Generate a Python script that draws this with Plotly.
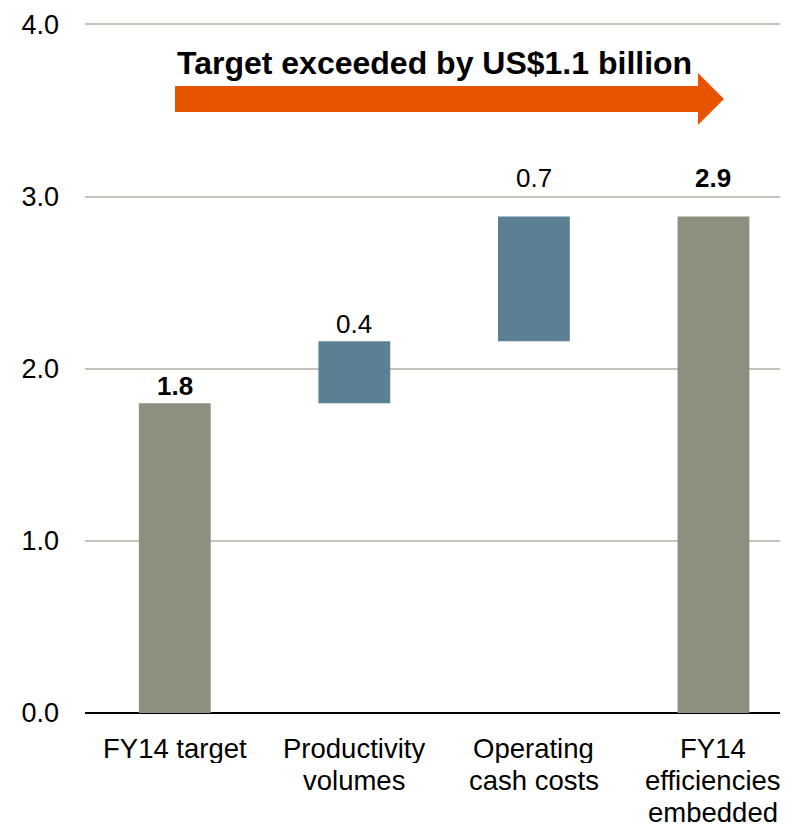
import plotly.graph_objects as go

categories = ["FY14 target", "Productivity<br>volumes", "Operating<br>cash costs", "FY14<br>efficiencies<br>embedded"]
measures = ["absolute", "relative", "relative", "total"]
values = [1.8, 0.36, 0.725, 0]
value_labels = ["<b>1.8</b>", "0.4", "0.7", "<b>2.9</b>"]
y_ticks = [0, 1, 2, 3, 4]
y_tick_labels = ["0.0", "1.0", "2.0", "3.0", "4.0"]
headline = "Target exceeded by US$1.1 billion"

GREY = "#8E8F7F"
BLUE = "#5B7F93"
ORANGE = "#E85300"
FONT = "Liberation Sans, Arial, sans-serif"

OFF = 8  # page body margin
W, H = 780, 817
ML, MR, MT, MB = 77, 0, 13, 112
PW, PH = W - ML - MR, H - MT - MB
PLOT_LEFT = OFF + ML
PLOT_BOTTOM = OFF + MT + PH


def px(xp):
    return (xp - PLOT_LEFT) / PW


def py(yp):
    return (PLOT_BOTTOM - yp) / PH


fig = go.Figure(go.Waterfall(
    x=categories,
    y=values,
    measure=measures,
    width=0.4,
    increasing=dict(marker=dict(color=BLUE, line=dict(width=0))),
    decreasing=dict(marker=dict(color=BLUE, line=dict(width=0))),
    totals=dict(marker=dict(color=GREY, line=dict(width=0))),
    connector=dict(visible=False),
    hoverinfo="skip",
))

# value labels above bar tops (running totals)
label_lift = [0, 0, 21, 21]
running = 0.0
for cat, m, v, lab, lift in zip(categories, measures, values, value_labels, label_lift):
    if m == "absolute":
        running = v
    elif m == "relative":
        running += v
    top = running
    fig.add_annotation(x=cat, y=top, xref="x", yref="y", text=lab, showarrow=False,
                       xanchor="center", yanchor="bottom", yshift=lift,
                       font=dict(family=FONT, size=26, color="black"))

# category labels, one annotation per line for tight line spacing
LINE_GAP = 32
FIRST = 35
for cat in categories:
    for i, line in enumerate(cat.split("<br>")):
        fig.add_annotation(x=cat, y=0, xref="x", yref="paper", text=line, showarrow=False,
                           xanchor="center", yanchor="middle", yshift=-(FIRST + LINE_GAP * i),
                           height=30,
                           font=dict(family=FONT, size=27.5, color="black"))

# orange arrow
pts = [(175, 86), (698, 86), (698, 73), (724, 99), (698, 125), (698, 112), (175, 112)]
path = "M " + " L ".join(f"{px(a):.5f},{py(b):.5f}" for a, b in pts) + " Z"
fig.add_shape(type="path", xref="paper", yref="paper", path=path,
              fillcolor=ORANGE, line=dict(width=0), layer="above")

fig.add_annotation(xref="paper", yref="paper", x=px(434), y=py(63),
                   text=f"<b>{headline}</b>", showarrow=False,
                   xanchor="center", yanchor="middle",
                   font=dict(family=FONT, size=32, color="black"))

fig.update_layout(
    width=W, height=H,
    margin=dict(l=ML, r=MR, t=MT, b=MB, pad=0),
    paper_bgcolor="white", plot_bgcolor="white",
    showlegend=False,
    font=dict(family=FONT, color="black"),
    xaxis=dict(
        type="category",
        range=[-0.5, 3.415],
        showgrid=False, showline=False, zeroline=False,
        ticks="", showticklabels=False,
    ),
    yaxis=dict(
        range=[0, 4.02],
        tickvals=y_ticks, ticktext=y_tick_labels,
        showgrid=True, gridcolor="#C4C4BA", gridwidth=1.5,
        zeroline=True, zerolinecolor="black", zerolinewidth=1.5,
        showline=False, ticks="",
        ticklabelstandoff=25,
        tickfont=dict(family=FONT, size=27, color="black"),
    ),
)

fig.write_html("out.html")
